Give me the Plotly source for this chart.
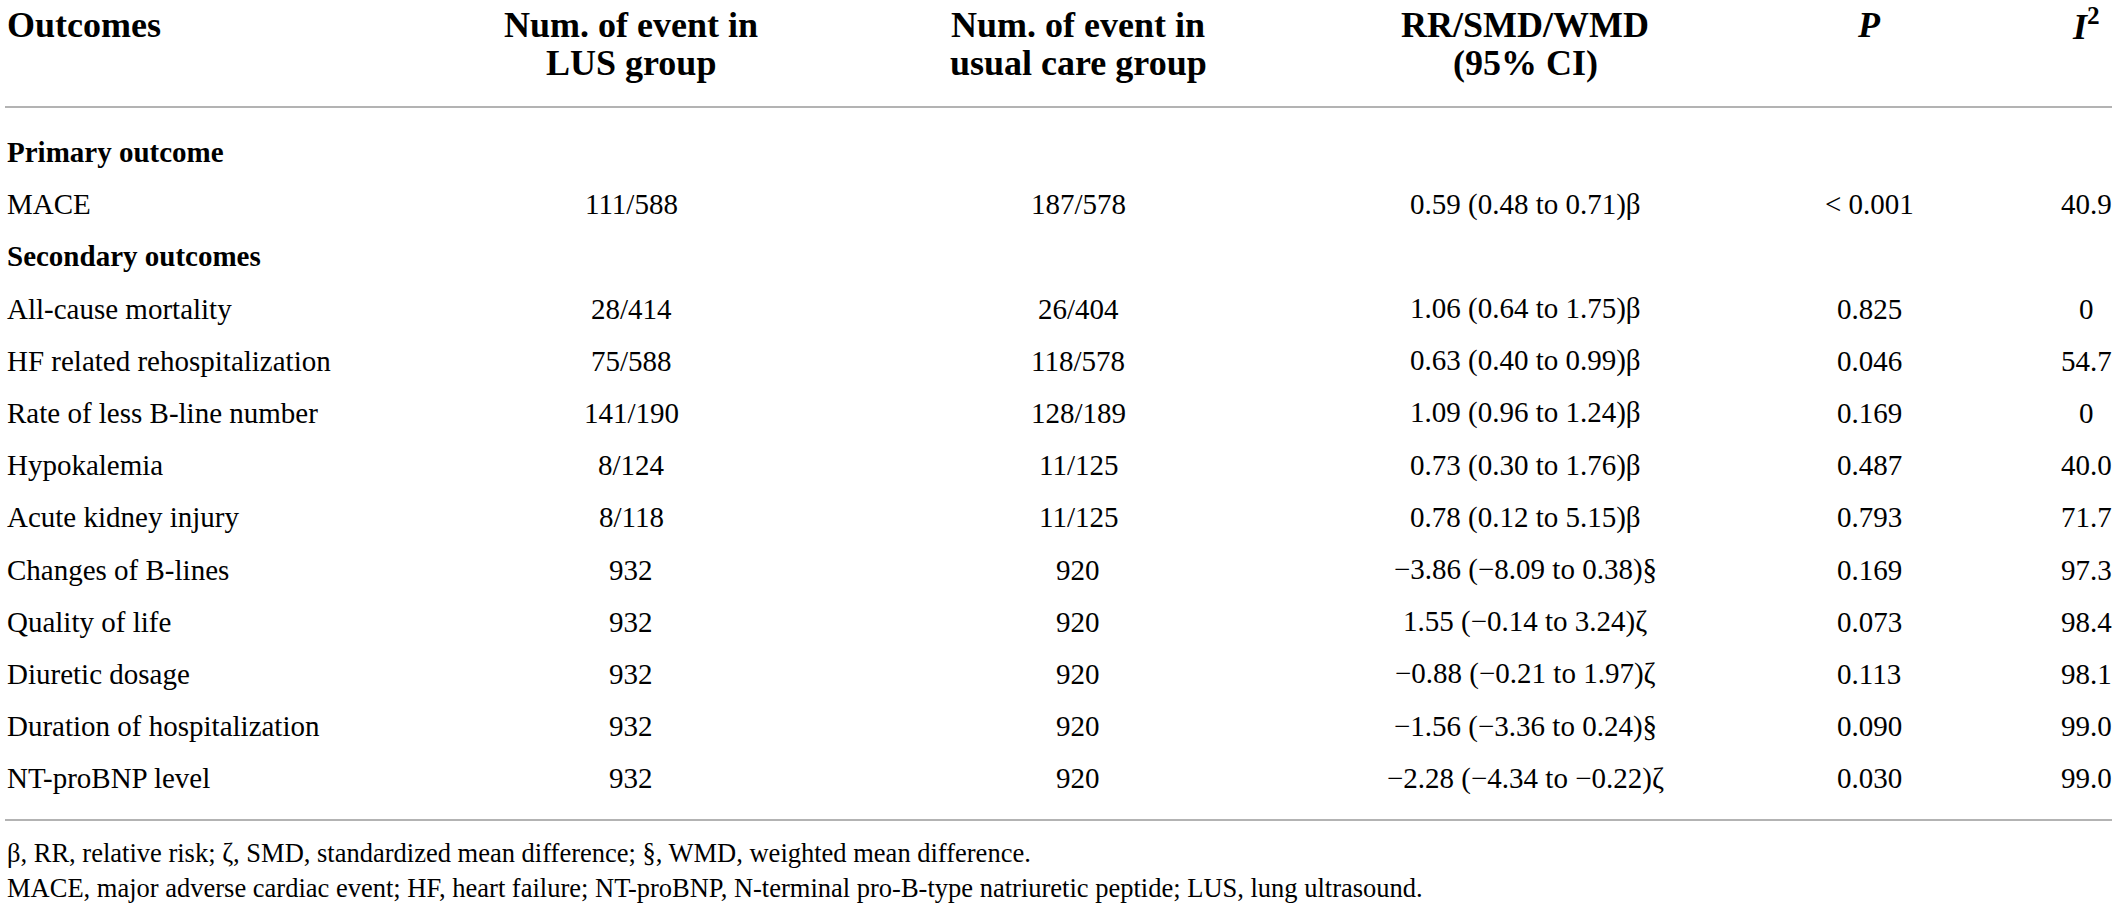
import plotly.graph_objects as go

W, H = 2117, 911
FONT = "Liberation Serif"

# table content
header_cols = [
    ["Outcomes"],
    ["Num. of event in", "LUS group"],
    ["Num. of event in", "usual care group"],
    ["RR/SMD/WMD", "(95% CI)"],
    ["<i>P</i>"],
    ["<i>I</i><sup>2</sup>"],
]

outcomes = [
    "Primary outcome",
    "MACE",
    "Secondary outcomes",
    "All-cause mortality",
    "HF related rehospitalization",
    "Rate of less B-line number",
    "Hypokalemia",
    "Acute kidney injury",
    "Changes of B-lines",
    "Quality of life",
    "Diuretic dosage",
    "Duration of hospitalization",
    "NT-proBNP level",
]
section_rows = [0, 2]

lus_events = ["", "111/588", "", "28/414", "75/588", "141/190", "8/124", "8/118",
              "932", "932", "932", "932", "932"]
usual_events = ["", "187/578", "", "26/404", "118/578", "128/189", "11/125", "11/125",
                "920", "920", "920", "920", "920"]
effects = ["", "0.59 (0.48 to 0.71)β", "",
           "1.06 (0.64 to 1.75)β",
           "0.63 (0.40 to 0.99)β",
           "1.09 (0.96 to 1.24)β",
           "0.73 (0.30 to 1.76)β",
           "0.78 (0.12 to 5.15)β",
           "−3.86 (−8.09 to 0.38)§",
           "1.55 (−0.14 to 3.24)ζ",
           "−0.88 (−0.21 to 1.97)ζ",
           "−1.56 (−3.36 to 0.24)§",
           "−2.28 (−4.34 to −0.22)ζ"]
p_values = ["", "< 0.001", "", "0.825", "0.046", "0.169", "0.487", "0.793",
            "0.169", "0.073", "0.113", "0.090", "0.030"]
i2_values = ["", "40.9", "", "0", "54.7", "0", "40.0", "71.7",
             "97.3", "98.4", "98.1", "99.0", "99.0"]

footnotes = [
    "β, RR, relative risk; ζ, SMD, standardized mean difference; §, WMD, weighted mean difference.",
    "MACE, major adverse cardiac event; HF, heart failure; NT-proBNP, N-terminal pro-B-type natriuretic peptide; LUS, lung ultrasound.",
]

# layout (pixels)
col_x = [6, 631, 1078, 1525, 1869, 2086]
head_size, body_size, note_size = 36, 29, 26.5
head_base = [37, 75]
row_base0, row_step = 162, 52.17
rule_top, rule_bottom = 107, 820
note_base = [862, 897]

fig = go.Figure(go.Scatter(x=[], y=[]))
annotations = []


def cell(x, baseline, text, size, left=False):
    # centre of the text box sits ~0.34em above the baseline
    annotations.append(dict(
        x=x, y=baseline - 0.34 * size, xref="x", yref="y", text=text,
        showarrow=False, xanchor="left" if left else "center", yanchor="middle",
        font=dict(family=FONT, size=size, color="black"), borderpad=0,
    ))


for c, lines in enumerate(header_cols):
    for k, line in enumerate(lines):
        cell(col_x[c], head_base[k], "<b>" + line + "</b>", head_size, left=(c == 0))

for r, name in enumerate(outcomes):
    base = row_base0 + r * row_step
    cell(col_x[0], base, "<b>" + name + "</b>" if r in section_rows else name, body_size, left=True)
    for c, col in enumerate([lus_events, usual_events, effects, p_values, i2_values], start=1):
        if col[r]:
            cell(col_x[c], base, col[r], body_size)

for k, note in enumerate(footnotes):
    cell(col_x[0], note_base[k], note, note_size, left=True)

shapes = [
    dict(type="line", xref="x", yref="y", x0=5, x1=2112, y0=y, y1=y,
         line=dict(color="#9a9a9a", width=1.5))
    for y in (rule_top, rule_bottom)
]

fig.update_layout(
    width=W, height=H,
    margin=dict(l=0, r=0, t=0, b=0),
    paper_bgcolor="white", plot_bgcolor="white",
    showlegend=False,
    xaxis=dict(range=[0, W], visible=False, fixedrange=True),
    yaxis=dict(range=[H, 0], visible=False, fixedrange=True),
    annotations=annotations,
    shapes=shapes,
)

fig.write_html("out.html", config={"displayModeBar": False},
               post_script="document.body.style.margin='0';")
